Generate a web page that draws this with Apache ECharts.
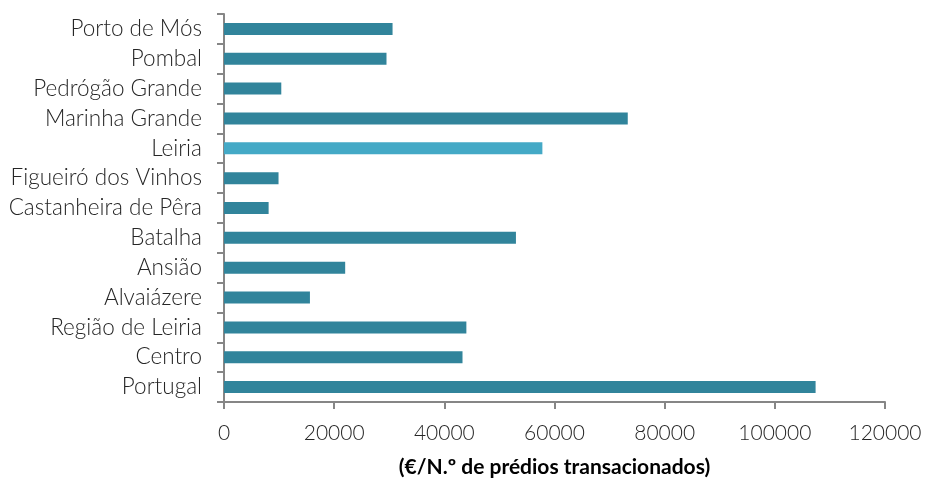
<!DOCTYPE html>
<html><head><meta charset="utf-8">
<script src="https://cdn.jsdelivr.net/npm/echarts@6/dist/echarts.min.js"></script>
<style>html,body{margin:0;padding:0;background:#fff}#c{width:925px;height:480px}</style>
</head><body><div id="c"></div>
<script>
var categories = ['Portugal','Centro','Região de Leiria','Alvaiázere','Ansião','Batalha','Castanheira de Pêra','Figueiró dos Vinhos','Leiria','Marinha Grande','Pedrógão Grande','Pombal','Porto de Mós'];
var values = [107400, 43300, 44000, 15600, 22000, 53000, 8100, 9900, 57800, 73300, 10400, 29500, 30600];
var highlight = 'Leiria';
var xTicks = [0, 20000, 40000, 60000, 80000, 100000, 120000];
var axisName = '(€/N.º de prédios transacionados)';

var font = 'Lato';
var chart = echarts.init(document.getElementById('c'), null, {renderer:'canvas'});
chart.setOption({
  animation:false,
  grid:{left:224, right:40, top:14, bottom:78, containLabel:false, outerBoundsMode:'none'},
  xAxis:{type:'value', min:xTicks[0], max:xTicks[xTicks.length-1], interval:20000,
    name:axisName, nameLocation:'middle', nameGap:55,
    nameTextStyle:{fontFamily:font, fontSize:21, fontWeight:'bold', color:'#000'},
    axisLine:{show:true, lineStyle:{color:'#868686', width:2}},
    axisTick:{show:true, length:7, lineStyle:{color:'#868686', width:2}},
    axisLabel:{fontFamily:font, fontSize:21, fontWeight:300, color:'#262626', margin:21,
      formatter:function(v){return String(v);}},
    splitLine:{show:false}},
  yAxis:{type:'category', data:categories,
    axisLine:{show:true, lineStyle:{color:'#868686', width:2}},
    axisTick:{show:true, length:7, lineStyle:{color:'#868686', width:2}},
    axisLabel:{fontFamily:font, fontSize:22.5, fontWeight:300, color:'#262626', margin:22, interval:0, hideOverlap:false}},
  series:[{type:'bar', barWidth:12,
    data: values.map(function(v,i){return {value:v, itemStyle:{color: categories[i]===highlight ? '#44A9C6' : '#31849B'}};})
  }]
});
</script></body></html>
